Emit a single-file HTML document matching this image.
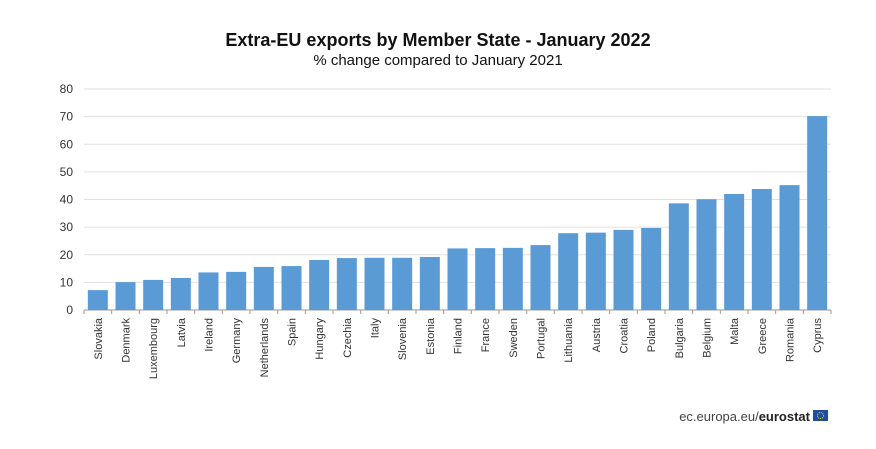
<!DOCTYPE html>
<html><head><meta charset="utf-8"><style>
body{margin:0;background:#fff;width:876px;height:444px;overflow:hidden;font-family:"Liberation Sans",Arial,sans-serif}
</style></head><body>
<svg id="chart" width="876" height="444" xmlns="http://www.w3.org/2000/svg">
<text x="438" y="46" text-anchor="middle" font-size="18" font-weight="bold" fill="#111">Extra-EU exports by Member State - January 2022</text>
<text x="438" y="65" text-anchor="middle" font-size="15" fill="#111">% change compared to January 2021</text>
<g id="grid"></g><g id="bars"></g><g id="ylabels"></g><g id="xlabels"></g>
<g>
<text x="810" y="421" text-anchor="end" font-size="13" fill="#444">ec.europa.eu/<tspan font-weight="bold" fill="#222">eurostat</tspan></text>
<rect x="813" y="410" width="15" height="11" fill="#1f4ea1"/>
<circle cx="820.5" cy="415.5" r="3" fill="none" stroke="#f5d800" stroke-width="1" stroke-dasharray="1 1"/>
</g>
</svg>
<script>
const categories=["Slovakia","Denmark","Luxembourg","Latvia","Ireland","Germany","Netherlands","Spain","Hungary","Czechia","Italy","Slovenia","Estonia","Finland","France","Sweden","Portugal","Lithuania","Austria","Croatia","Poland","Bulgaria","Belgium","Malta","Greece","Romania","Cyprus"];
const values=[7.2,10.1,10.9,11.6,13.6,13.8,15.6,15.9,18.1,18.8,18.9,18.9,19.2,22.3,22.4,22.5,23.5,27.8,28.0,29.0,29.7,38.6,40.1,42.0,43.8,45.2,70.2];
const yTicks=[0,10,20,30,40,50,60,70,80];
const NS="http://www.w3.org/2000/svg";
const x0=84,x1=831,yBase=310,yTop=89,yMax=80;
const y=v=>yBase-(v/yMax)*(yBase-yTop);
const step=(x1-x0)/categories.length;
const xc=i=>x0+step*(i+0.5);
function mk(t,a,p){const e=document.createElementNS(NS,t);for(const k in a)e.setAttribute(k,a[k]);p.appendChild(e);return e;}
const grid=document.getElementById('grid'),yl=document.getElementById('ylabels');
yTicks.forEach(t=>{
 const l=mk('line',{x1:x0,x2:x1,y1:y(t),y2:y(t),stroke:t===0?'#999':'#e0e0e0','stroke-width':1},grid);
 
 
 const tx=mk('text',{x:73,y:y(t)+4,'text-anchor':'end','font-size':12,fill:'#333'},yl);
 tx.textContent=t;
 
 
});
const bars=document.getElementById('bars'),xl=document.getElementById('xlabels');
categories.forEach((c,i)=>{
 const v=values[i];
 const r=mk('rect',{x:xc(i)-10,y:y(v),width:20,height:yBase-y(v),fill:'#5b9bd5'},bars);
 
 
 const tk=mk('line',{x1:x0+step*i,x2:x0+step*i,y1:yBase,y2:yBase+4,stroke:'#999'},grid);
 
 
 const tx=mk('text',{x:0,y:0,'text-anchor':'end','font-size':11,fill:'#333',transform:`translate(${xc(i)+4},318) rotate(-90)`},xl);
 tx.textContent=c;
 
 
});
const tk=mk('line',{x1:x1,x2:x1,y1:yBase,y2:yBase+4,stroke:'#999'},grid);


</script>
</body></html>
